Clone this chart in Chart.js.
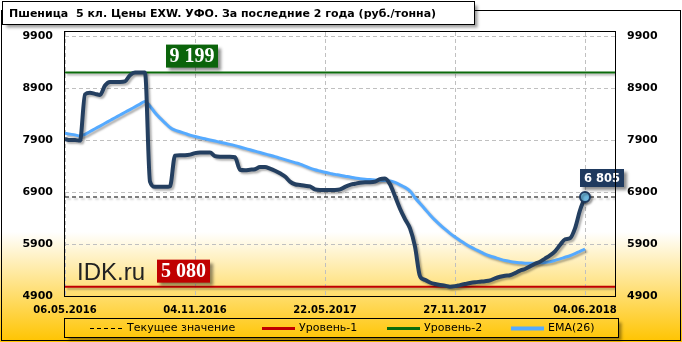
<!DOCTYPE html>
<html>
<head>
<meta charset="utf-8">
<script src="https://cdn.jsdelivr.net/npm/chart.js@4.4.1/dist/chart.umd.min.js"></script>
<style>
  html, body { margin: 0; padding: 0; background: #fff; }
  #wrap { width: 682px; height: 342px; }
</style>
</head>
<body>
<div id="wrap"><canvas id="chart" width="682" height="342"></canvas></div>
<script>
// -------- DATA --------
const chartTitle = 'Пшеница  5 кл. Цены EXW. УФО. За последние 2 года (руб./тонна)';
const xTickLabels = ['06.05.2016', '04.11.2016', '22.05.2017', '27.11.2017', '04.06.2018'];
const tickStep = 26;      // weeks between shown dates
const slotCount = 111;    // weekly slots on the x axis
const yTicks = [4900, 5900, 6900, 7900, 8900, 9900];

const priceValues = [
    7920, 7900, 7900, 7890, 8780, 8810, 8790, 8770, 8950, 9020,
    9020, 9020, 9030, 9150, 9200, 9200, 9200, 7100, 7000, 7000,
    7000, 7010, 7600, 7610, 7610, 7620, 7650, 7660, 7660, 7660,
    7590, 7580, 7580, 7580, 7570, 7330, 7320, 7330, 7340, 7380,
    7380, 7350, 7310, 7260, 7200, 7100, 7050, 7035, 7020, 7010,
    6950, 6940, 6940, 6940, 6940, 6950, 7000, 7040, 7060, 7080,
    7090, 7090, 7100, 7150, 7160, 7050, 6820, 6580, 6380, 6200,
    5850, 5280, 5210, 5160, 5130, 5110, 5100, 5080, 5090, 5110,
    5130, 5150, 5165, 5175, 5185, 5200, 5240, 5270, 5290, 5300,
    5340, 5390, 5420, 5470, 5520, 5560, 5620, 5680, 5760, 5880,
    5990, 6010, 6200, 6550, 6805
];

const emaValues = [
    8030, 8015, 8000, 7980, 8012, 8065, 8118, 8170, 8223, 8276,
    8329, 8382, 8435, 8487, 8540, 8593, 8645, 8553, 8425, 8322,
    8232, 8142, 8091, 8060, 8028, 7996, 7968, 7947, 7925, 7903,
    7882, 7860, 7839, 7817, 7793, 7767, 7740, 7714, 7687, 7661,
    7634, 7608, 7581, 7552, 7524, 7495, 7467, 7438, 7400, 7360,
    7330, 7305, 7280, 7260, 7240, 7225, 7205, 7190, 7170, 7158,
    7148, 7140, 7133, 7127, 7122, 7115, 7085, 7040, 6990, 6920,
    6790, 6680, 6570, 6460, 6360, 6270, 6185, 6106, 6035, 5970,
    5905, 5850, 5800, 5755, 5705, 5670, 5640, 5610, 5583, 5565,
    5550, 5540, 5532, 5530, 5532, 5538, 5546, 5560, 5585, 5615,
    5645, 5675, 5715, 5760, 5800
];

const currentValue = 6805;
const level1 = 5080;
const level2 = 9199;

const legendItems = [
    { text: 'Текущее значение', color: '#000', width: 1, dash: [4, 3], x: 90 },
    { text: 'Уровень-1', color: '#c00000', width: 3, dash: [], x: 262 },
    { text: 'Уровень-2', color: '#0b6b0b', width: 3, dash: [], x: 387 },
    { text: 'EMA(26)', color: '#55aaff', width: 4, dash: [], x: 511 }
];
// -------- END DATA --------

const slotLabels = Array.from({ length: slotCount }, (_, i) =>
    i % tickStep === 0 && xTickLabels[i / tickStep] ? xTickLabels[i / tickStep] : '');

function fmtSpace(v) {
    return String(v).replace(/\B(?=(\d{3})+(?!\d))/g, ' ');
}

function valueBox(ctx, text, x, y, w, h, bg, font) {
    ctx.save();
    ctx.shadowColor = 'rgba(0,0,0,0.45)';
    ctx.shadowBlur = 3;
    ctx.shadowOffsetX = 3;
    ctx.shadowOffsetY = 3;
    ctx.fillStyle = bg;
    ctx.fillRect(x, y, w, h);
    ctx.restore();
    ctx.save();
    ctx.fillStyle = '#fff';
    ctx.font = font;
    ctx.textAlign = 'center';
    ctx.textBaseline = 'middle';
    ctx.fillText(text, x + w / 2, y + h / 2 + 1);
    ctx.restore();
}

// -------- DECORATION PLUGIN --------
const decor = {
    id: 'decor',
    beforeDraw(chart) {
        const { ctx, width, height } = chart;
        ctx.save();
        ctx.fillStyle = '#fff';
        ctx.fillRect(0, 0, width, height);
        const g = ctx.createLinearGradient(0, 232, 0, height);
        g.addColorStop(0, '#ffffff');
        g.addColorStop(1, '#ffc400');
        ctx.fillStyle = g;
        ctx.fillRect(0, 232, width, height - 232);
        ctx.restore();
    },
    beforeDatasetsDraw(chart) {
        const ctx = chart.ctx;
        const area = chart.chartArea;
        const xs = chart.scales.x;
        const ys = chart.scales.y;

        // dashed grid
        ctx.save();
        ctx.strokeStyle = '#c0c0c0';
        ctx.lineWidth = 1;
        ctx.setLineDash([4, 3]);
        ctx.beginPath();
        xs.ticks.forEach(t => {
            const px = Math.round(xs.getPixelForValue(t.value)) + 0.5;
            ctx.moveTo(px, area.top);
            ctx.lineTo(px, area.bottom);
        });
        ys.ticks.forEach(t => {
            const py = Math.round(ys.getPixelForValue(t.value)) + 0.5;
            ctx.moveTo(area.left, py);
            ctx.lineTo(area.right, py);
        });
        ctx.stroke();
        ctx.restore();

        ctx.save();
        ctx.fillStyle = '#222';
        ctx.font = '24px "Liberation Sans"';
        ctx.textBaseline = 'alphabetic';
        ctx.fillText('IDK.ru', area.left + 12, 280);
        ctx.restore();

        ctx.save();
        ctx.shadowColor = 'rgba(0,0,0,0.3)';
        ctx.shadowBlur = 2;
        ctx.shadowOffsetX = 2;
        ctx.shadowOffsetY = 2;
    },
    afterDatasetsDraw(chart) {
        const ctx = chart.ctx;
        ctx.restore();
        const y = chart.scales.y;
        const x = chart.scales.x;
        const serif = 'bold 20px "Liberation Serif"';
        valueBox(ctx, fmtSpace(level2), 166, y.getPixelForValue(level2) - 28, 52, 23, '#0b640b', serif);
        valueBox(ctx, fmtSpace(level1), 157, y.getPixelForValue(level1) - 27, 53, 23, '#c00000', serif);
        const px = x.getPixelForValue(priceValues.length - 1);
        const py = y.getPixelForValue(currentValue);
        valueBox(ctx, fmtSpace(currentValue), px - 5, py - 28, 44, 18, '#1f3a5f', 'bold 11.5px "DejaVu Sans"');
    },
    afterDraw(chart) {
        const ctx = chart.ctx;
        const a = chart.chartArea;
        ctx.save();
        ctx.strokeStyle = '#000';
        ctx.lineWidth = 1;
        ctx.strokeRect(Math.round(a.left) - 0.5, Math.round(a.top) - 0.5,
            Math.round(a.right - a.left) + 1, Math.round(a.bottom - a.top) + 1);

        // outer frame
        ctx.strokeRect(1.5, 10.5, 679, 330);

        // title box
        ctx.save();
        ctx.shadowColor = 'rgba(0,0,0,0.4)';
        ctx.shadowBlur = 3;
        ctx.shadowOffsetX = 3;
        ctx.shadowOffsetY = 3;
        ctx.fillStyle = '#fff';
        ctx.fillRect(2.5, 1.5, 472, 23);
        ctx.restore();
        ctx.strokeRect(2.5, 1.5, 472, 23);
        ctx.fillStyle = '#000';
        ctx.font = 'bold 11px "DejaVu Sans"';
        ctx.textBaseline = 'alphabetic';
        ctx.fillText(chartTitle, 9, 17);

        // legend box
        ctx.save();
        ctx.shadowColor = 'rgba(0,0,0,0.4)';
        ctx.shadowBlur = 3;
        ctx.shadowOffsetX = 3;
        ctx.shadowOffsetY = 3;
        ctx.fillStyle = 'rgba(255,215,60,1)';
        ctx.fillRect(64.5, 318.5, 554, 19);
        ctx.restore();
        const lg = ctx.createLinearGradient(0, 232, 0, chart.height);
        lg.addColorStop(0, '#ffffff');
        lg.addColorStop(1, '#ffc400');
        ctx.fillStyle = lg;
        ctx.fillRect(64.5, 318.5, 554, 19);
        ctx.strokeRect(64.5, 318.5, 554, 19);

        ctx.font = '11px "DejaVu Sans"';
        ctx.textBaseline = 'middle';
        legendItems.forEach(item => {
            ctx.save();
            ctx.strokeStyle = item.color;
            ctx.lineWidth = item.width;
            ctx.setLineDash(item.dash);
            ctx.beginPath();
            ctx.moveTo(item.x, 328.5);
            ctx.lineTo(item.x + 33, 328.5);
            ctx.stroke();
            ctx.restore();
            ctx.fillStyle = '#000';
            ctx.fillText(item.text, item.x + 37, 328.5);
        });
        ctx.restore();
    }
};
// -------- END DECORATION PLUGIN --------

// -------- CHART --------
const fixedYTicks = scale => { scale.ticks = yTicks.map(v => ({ value: v })); };
const yTickFont = { family: 'DejaVu Sans', size: 11, weight: 'bold' };

new Chart(document.getElementById('chart'), {
    type: 'line',
    data: {
        labels: slotLabels,
        datasets: [
            {
                label: 'Цена',
                data: priceValues,
                borderColor: '#243f60',
                borderWidth: 4,
                cubicInterpolationMode: 'monotone',
                pointRadius: ctx => ctx.dataIndex === priceValues.length - 1 ? 5 : 0,
                pointBackgroundColor: '#6cb6dc',
                pointBorderColor: '#1f3a5f',
                pointBorderWidth: 2
            },
            {
                label: 'EMA(26)',
                data: emaValues,
                borderColor: '#55aaff',
                borderWidth: 3,
                cubicInterpolationMode: 'monotone',
                pointRadius: 0
            },
            {
                label: 'Текущее значение',
                data: slotLabels.map(() => currentValue),
                borderColor: '#000',
                borderWidth: 1,
                borderDash: [4, 3],
                pointRadius: 0
            },
            {
                label: 'Уровень-1',
                data: slotLabels.map(() => level1),
                borderColor: '#c00000',
                borderWidth: 2,
                pointRadius: 0
            },
            {
                label: 'Уровень-2',
                data: slotLabels.map(() => level2),
                borderColor: '#0b6b0b',
                borderWidth: 2,
                pointRadius: 0
            }
        ]
    },
    options: {
        responsive: false,
        animation: false,
        devicePixelRatio: 1,
        layout: { padding: { top: 32, bottom: 26, left: 0, right: 0 } },
        plugins: {
            legend: { display: false },
            title: { display: false },
            tooltip: { enabled: false }
        },
        scales: {
            x: {
                type: 'category',
                offset: false,
                afterBuildTicks: s => { s.ticks = s.ticks.filter(t => slotLabels[t.value] !== ''); },
                afterFit: s => { s.height = 20; },
                grid: { display: false, drawTicks: false },
                border: { display: false },
                ticks: {
                    autoSkip: false,
                    maxRotation: 0,
                    padding: 8,
                    color: '#000',
                    font: { family: 'DejaVu Sans', size: 10, weight: 'bold' },
                    callback: function (v) { return this.getLabelForValue(v); }
                }
            },
            y: {
                position: 'left',
                min: 4900,
                max: 9980,
                afterBuildTicks: fixedYTicks,
                afterFit: s => { s.width = 65; },
                grid: { display: false, drawTicks: false },
                border: { display: false },
                ticks: {
                    padding: 12,
                    color: '#000',
                    font: yTickFont,
                    callback: v => String(v)
                }
            },
            y2: {
                position: 'right',
                min: 4900,
                max: 9980,
                afterBuildTicks: fixedYTicks,
                afterFit: s => { s.width = 67; },
                grid: { display: false, drawTicks: false },
                border: { display: false },
                ticks: {
                    padding: 12,
                    color: '#000',
                    font: yTickFont,
                    callback: v => String(v)
                }
            }
        }
    },
    plugins: [decor]
});
// -------- END CHART --------
</script>
</body>
</html>
